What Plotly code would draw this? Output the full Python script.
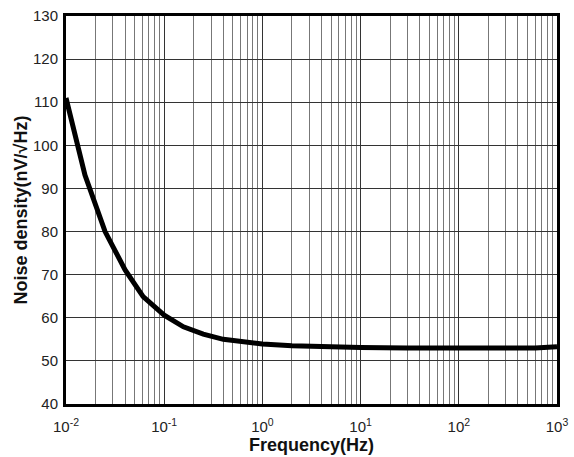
import plotly.graph_objects as go

freq = [0.01, 0.0156, 0.025, 0.04, 0.061, 0.1, 0.157, 0.25, 0.4, 0.75, 1.0, 2.0, 5.0, 10.0, 30.0, 100.0, 300.0, 600.0, 1000.0]
noise = [111.0, 93.1, 80.0, 71.1, 64.9, 60.6, 57.9, 56.2, 55.0, 54.2, 53.9, 53.5, 53.2, 53.1, 53.0, 53.0, 53.0, 53.0, 53.3]

x_tickvals = [0.01, 0.1, 1, 10, 100, 1000]
x_ticktext = ["10<sup>-2</sup>", "10<sup>-1</sup>", "10<sup>0</sup>", "10<sup>1</sup>", "10<sup>2</sup>", "10<sup>3</sup>"]
y_tickvals = [40, 50, 60, 70, 80, 90, 100, 110, 120, 130]

minor_vals = [m * d for d in [0.01, 0.1, 1, 10, 100] for m in range(2, 10)]

fig = go.Figure()
fig.add_trace(go.Scatter(x=freq, y=noise, mode="lines",
                         line=dict(color="black", width=5), showlegend=False))

font = dict(family="Liberation Sans, Arial, sans-serif", size=15, color="#222")

fig.update_layout(
    width=574, height=457,
    margin=dict(l=66, r=17, t=16, b=53, autoexpand=False),
    paper_bgcolor="white", plot_bgcolor="white",
    font=font,
    xaxis=dict(type="log", range=[-2, 3], tickvals=x_tickvals, ticktext=x_ticktext,
               showgrid=True, gridcolor="#333", gridwidth=1,
               minor=dict(tickvals=minor_vals, showgrid=True, gridcolor="#777", gridwidth=1, ticks=""),
               showline=True, linecolor="black", linewidth=3, mirror=True,
               ticks="", zeroline=False, automargin=False, ticklabelstandoff=7,
               title=dict(text="<b>Frequency(Hz)</b>", font=dict(size=18, color="#111"), standoff=3)),
    yaxis=dict(range=[40, 130], tickvals=y_tickvals,
               showgrid=True, gridcolor="#333", gridwidth=1,
               showline=True, linecolor="black", linewidth=3, mirror=True,
               ticks="", zeroline=False, automargin=False, ticklabelstandoff=2,
               title=dict(text="<b>Noise density(nV/√Hz)</b>", font=dict(size=18, color="#111"), standoff=1)),
)

fig.write_html("out.html")
